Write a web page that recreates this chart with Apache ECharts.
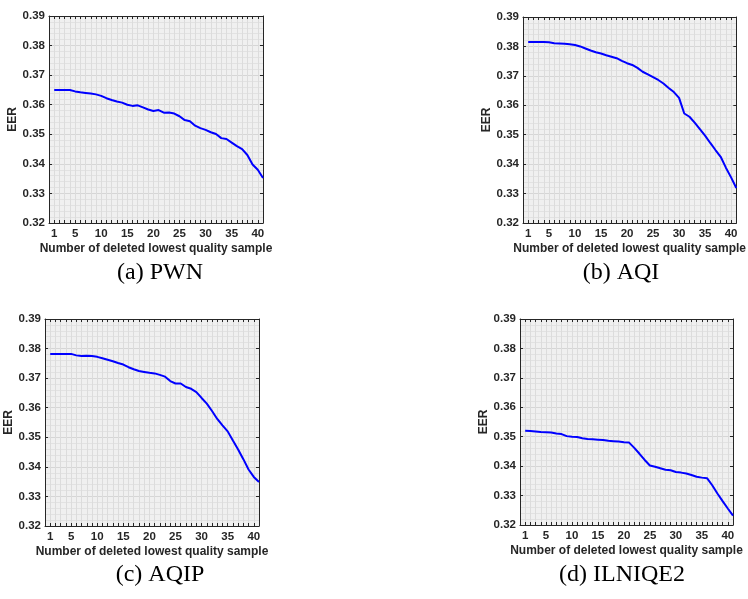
<!DOCTYPE html>
<html>
<head>
<meta charset="utf-8">
<script src="https://cdn.jsdelivr.net/npm/echarts@6/dist/echarts.min.js"></script>
<style>
html,body{margin:0;padding:0;background:#fff;}
#chart{width:748px;height:599px;}
</style>
</head>
<body>
<div id="chart"></div>
<script>
var xValues = [1,2,3,4,5,6,7,8,9,10,11,12,13,14,15,16,17,18,19,20,21,22,23,24,25,26,27,28,29,30,31,32,33,34,35,36,37,38,39,40,41];
var xTickLabels = [1,5,10,15,20,25,30,35,40];
var pwn = [0.365,0.365,0.365,0.365,0.3645,0.3642,0.3640,0.3638,0.3635,0.363,0.3622,0.3616,0.3611,0.3607,0.360,0.3596,0.3598,0.3591,0.3584,0.3579,0.3582,0.3573,0.3574,0.357,0.3561,0.3548,0.3544,0.3529,0.3521,0.3515,0.3507,0.3501,0.3487,0.3484,0.3472,0.346,0.345,0.343,0.3398,0.338,0.3352];
var aqi = [0.3815,0.3815,0.3815,0.3815,0.3814,0.3811,0.381,0.3809,0.3807,0.3805,0.38,0.3793,0.3786,0.378,0.3776,0.377,0.3765,0.376,0.3751,0.3743,0.3737,0.3727,0.3714,0.3705,0.3696,0.3686,0.3674,0.3659,0.3645,0.3625,0.3572,0.3561,0.3541,0.3519,0.3497,0.3472,0.3448,0.3425,0.3388,0.3355,0.3319];
var aqip = [0.3782,0.3782,0.3782,0.3782,0.3782,0.3777,0.3775,0.3776,0.3775,0.3772,0.3767,0.3762,0.3757,0.3751,0.3746,0.3737,0.373,0.3724,0.3721,0.3718,0.3716,0.3711,0.3705,0.369,0.3682,0.3682,0.367,0.3664,0.3653,0.3633,0.3614,0.3589,0.3562,0.354,0.352,0.3489,0.3459,0.3426,0.3391,0.3366,0.3349];
var ilniqe2 = [0.352,0.3519,0.3518,0.3516,0.3515,0.3514,0.3511,0.3509,0.3502,0.35,0.3499,0.3495,0.3492,0.3491,0.349,0.3489,0.3486,0.3485,0.3484,0.3481,0.348,0.3462,0.3442,0.3421,0.3402,0.3398,0.3393,0.3388,0.3386,0.338,0.3378,0.3375,0.337,0.3364,0.3361,0.3359,0.3335,0.3307,0.3281,0.3256,0.3232];
var captions = ['(a) PWN','(b) AQI','(c) AQIP','(d) ILNIQE2'];
var seriesList = [pwn, aqi, aqip, ilniqe2];
var xName = 'Number of deleted lowest quality sample';
var yName = 'EER';

var grids = [
  {left:49, top:16, width:214, height:207},
  {left:523, top:17, width:214, height:206},
  {left:45, top:319, width:214, height:207},
  {left:520, top:319, width:213, height:206}
];
var captionPos = [[160,273],[621,273],[160,575],[622,575]];

var axisColor = '#262626';
var font = 'Liberation Sans';
var lineStyleAxis = {color:axisColor, width:1};
var option = {
  animation:false,
  grid:[], xAxis:[], yAxis:[], series:[], graphic:[]
};
grids.forEach(function(g,i){
  option.grid.push({left:g.left, top:g.top, width:g.width, height:g.height, show:true,
    backgroundColor:'#f0f0f0', borderWidth:0});
  option.xAxis.push({gridIndex:i, type:'value', min:0, max:41, interval:1, position:'bottom',
    axisLine:{show:true, onZero:false, lineStyle:lineStyleAxis},
    axisTick:{show:true, inside:true, length:3, lineStyle:{color:axisColor}},
    axisLabel:{customValues:xTickLabels, color:axisColor, fontWeight:'bold', fontSize:11.5, fontFamily:font, margin:5},
    splitLine:{show:true, lineStyle:{color:'#dcdcdc', width:1}},
    name:xName, nameLocation:'middle', nameGap:20,
    nameTextStyle:{color:axisColor, fontWeight:'bold', fontSize:12, fontFamily:font}
  });
  option.xAxis.push({gridIndex:i, type:'value', min:0, max:41, interval:1, position:'top',
    axisLine:{show:true, onZero:false, lineStyle:lineStyleAxis},
    axisTick:{show:true, inside:true, length:3, lineStyle:{color:axisColor}},
    axisLabel:{show:false}, splitLine:{show:false}
  });
  option.yAxis.push({gridIndex:i, type:'value', min:0.32, max:0.39, interval:0.01, position:'left',
    axisLine:{show:true, onZero:false, lineStyle:lineStyleAxis},
    axisTick:{show:true, inside:true, length:3, lineStyle:{color:axisColor}},
    axisLabel:{color:axisColor, fontWeight:'bold', fontSize:11.5, fontFamily:font, margin:4,
      formatter:function(v){return v.toFixed(2);}},
    splitLine:{show:true, lineStyle:{color:'#d6d6d6', width:1}},
    minorTick:{show:false, splitNumber:5},
    minorSplitLine:{show:true, lineStyle:{color:'#e2e2e2', width:1}},
    name:yName, nameLocation:'middle', nameGap:26,
    nameTextStyle:{color:axisColor, fontWeight:'bold', fontSize:12, fontFamily:font}
  });
  option.yAxis.push({gridIndex:i, type:'value', min:0.32, max:0.39, interval:0.01, position:'right',
    axisLine:{show:true, onZero:false, lineStyle:lineStyleAxis},
    axisTick:{show:true, inside:true, length:3, lineStyle:{color:axisColor}},
    axisLabel:{show:false}, splitLine:{show:false}
  });
  option.series.push({type:'line', xAxisIndex:2*i, yAxisIndex:2*i, showSymbol:false, clip:true,
    lineStyle:{color:'#0000ff', width:2}, itemStyle:{color:'#0000ff'},
    data: xValues.map(function(x,k){return [x, seriesList[i][k]];})
  });
  option.graphic.push({type:'text', x:captionPos[i][0], y:captionPos[i][1],
    style:{text:captions[i], align:'center', verticalAlign:'middle',
      font:'24px "Liberation Serif"', fill:'#000'}});
});
var chart = echarts.init(document.getElementById('chart'), null, {renderer:'canvas'});
chart.setOption(option);
</script>
</body>
</html>
